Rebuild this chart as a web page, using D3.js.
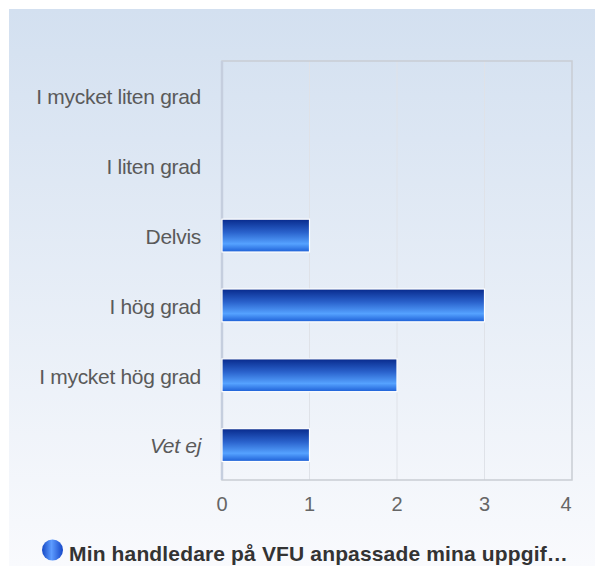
<!DOCTYPE html>
<html><head><meta charset="utf-8">
<script src="https://cdn.jsdelivr.net/npm/d3@7"></script>
<style>html,body{margin:0;padding:0;background:#fff;}svg{display:block;}</style>
</head><body>
<svg id="c" width="595" height="566"></svg>
<script>
const categories = ["I mycket liten grad","I liten grad","Delvis","I hög grad","I mycket hög grad","Vet ej"];
const values = [0,0,1,3,2,1];
const tickValues = [0,1,2,3,4];
const seriesName = "Min handledare på VFU anpassade mina uppgif…";

const svg = d3.select("#c");
const defs = svg.append("defs");
const bg = defs.append("linearGradient").attr("id","bg").attr("x1",0).attr("y1",0).attr("x2",0).attr("y2",1);
bg.append("stop").attr("offset","0%").attr("stop-color","#d3e0f0");
bg.append("stop").attr("offset","100%").attr("stop-color","#f9fafd");
const bar = defs.append("linearGradient").attr("id","bar").attr("x1",0).attr("y1",0).attr("x2",0).attr("y2",1);
bar.append("stop").attr("offset","0%").attr("stop-color","#082a8c");
bar.append("stop").attr("offset","40%").attr("stop-color","#2a62cc");
bar.append("stop").attr("offset","75%").attr("stop-color","#55a2ff");
bar.append("stop").attr("offset","100%").attr("stop-color","#1d5fd6");
const leg = defs.append("linearGradient").attr("id","leg").attr("x1",0).attr("y1",0).attr("x2",1).attr("y2",0);
leg.append("stop").attr("offset","0%").attr("stop-color","#1648c4");
leg.append("stop").attr("offset","45%").attr("stop-color","#5d9cff");
leg.append("stop").attr("offset","100%").attr("stop-color","#1547c8");

svg.append("rect").attr("x",9).attr("y",9).attr("width",586).attr("height",557).attr("fill","url(#bg)");

const m = {left:222, right:572, top:61, bottom:480};
const x = d3.scaleLinear().domain([0,4]).range([m.left,m.right]);
const y = d3.scaleBand().domain(categories).range([m.top,m.bottom]).paddingInner(0.53).paddingOuter(0.265);

// grid
svg.append("g").selectAll("line").data(tickValues.slice(1,-1)).join("line")
  .attr("x1",d=>x(d)).attr("x2",d=>x(d)).attr("y1",m.top).attr("y2",m.bottom)
  .attr("stroke","#dfe2e8").attr("stroke-width",1);
svg.append("rect").attr("x",m.left).attr("y",m.top).attr("width",m.right-m.left).attr("height",m.bottom-m.top)
  .attr("fill","none").attr("stroke","#c9cdd3").attr("stroke-width",1.5);
svg.append("line").attr("x1",m.left).attr("x2",m.left).attr("y1",m.top).attr("y2",m.bottom)
  .attr("stroke","#c5cede").attr("stroke-width",2.5);

// bars
svg.append("g").selectAll("rect").data(categories.map((c,i)=>({c,v:values[i]})).filter(d=>d.v>0)).join("rect")
  .attr("x",x(0)).attr("y",d=>y(d.c)).attr("width",d=>x(d.v)-x(0)).attr("height",y.bandwidth())
  .attr("fill","url(#bar)").attr("stroke","#fff").attr("stroke-width",1.2);

// y labels
svg.append("g").selectAll("text").data(categories).join("text")
  .attr("x",201).attr("y",d=>y(d)+y.bandwidth()/2).attr("dy","0.4em")
  .attr("text-anchor","end").attr("font-family","Liberation Sans, Arial, sans-serif")
  .attr("font-size",21).attr("letter-spacing","-0.3").attr("fill","#5a5a5a")
  .attr("font-style",d=>d==="Vet ej"?"italic":"normal").text(d=>d);

// x labels
svg.append("g").selectAll("text").data(tickValues).join("text")
  .attr("x",(d,i)=> i===tickValues.length-1 ? x(d)-6 : x(d)).attr("y",511)
  .attr("text-anchor","middle").attr("font-family","Liberation Sans, Arial, sans-serif")
  .attr("font-size",20).attr("fill","#666").text(d=>d);

// legend
svg.append("circle").attr("cx",52.5).attr("cy",550).attr("r",10.5).attr("fill","url(#leg)");
svg.append("text").attr("x",69).attr("y",560.5).attr("font-family","Liberation Sans, Arial, sans-serif")
  .attr("font-size",21).attr("font-weight","bold").attr("fill","#333").attr("letter-spacing","0.15").text(seriesName);
</script>
</body></html>
